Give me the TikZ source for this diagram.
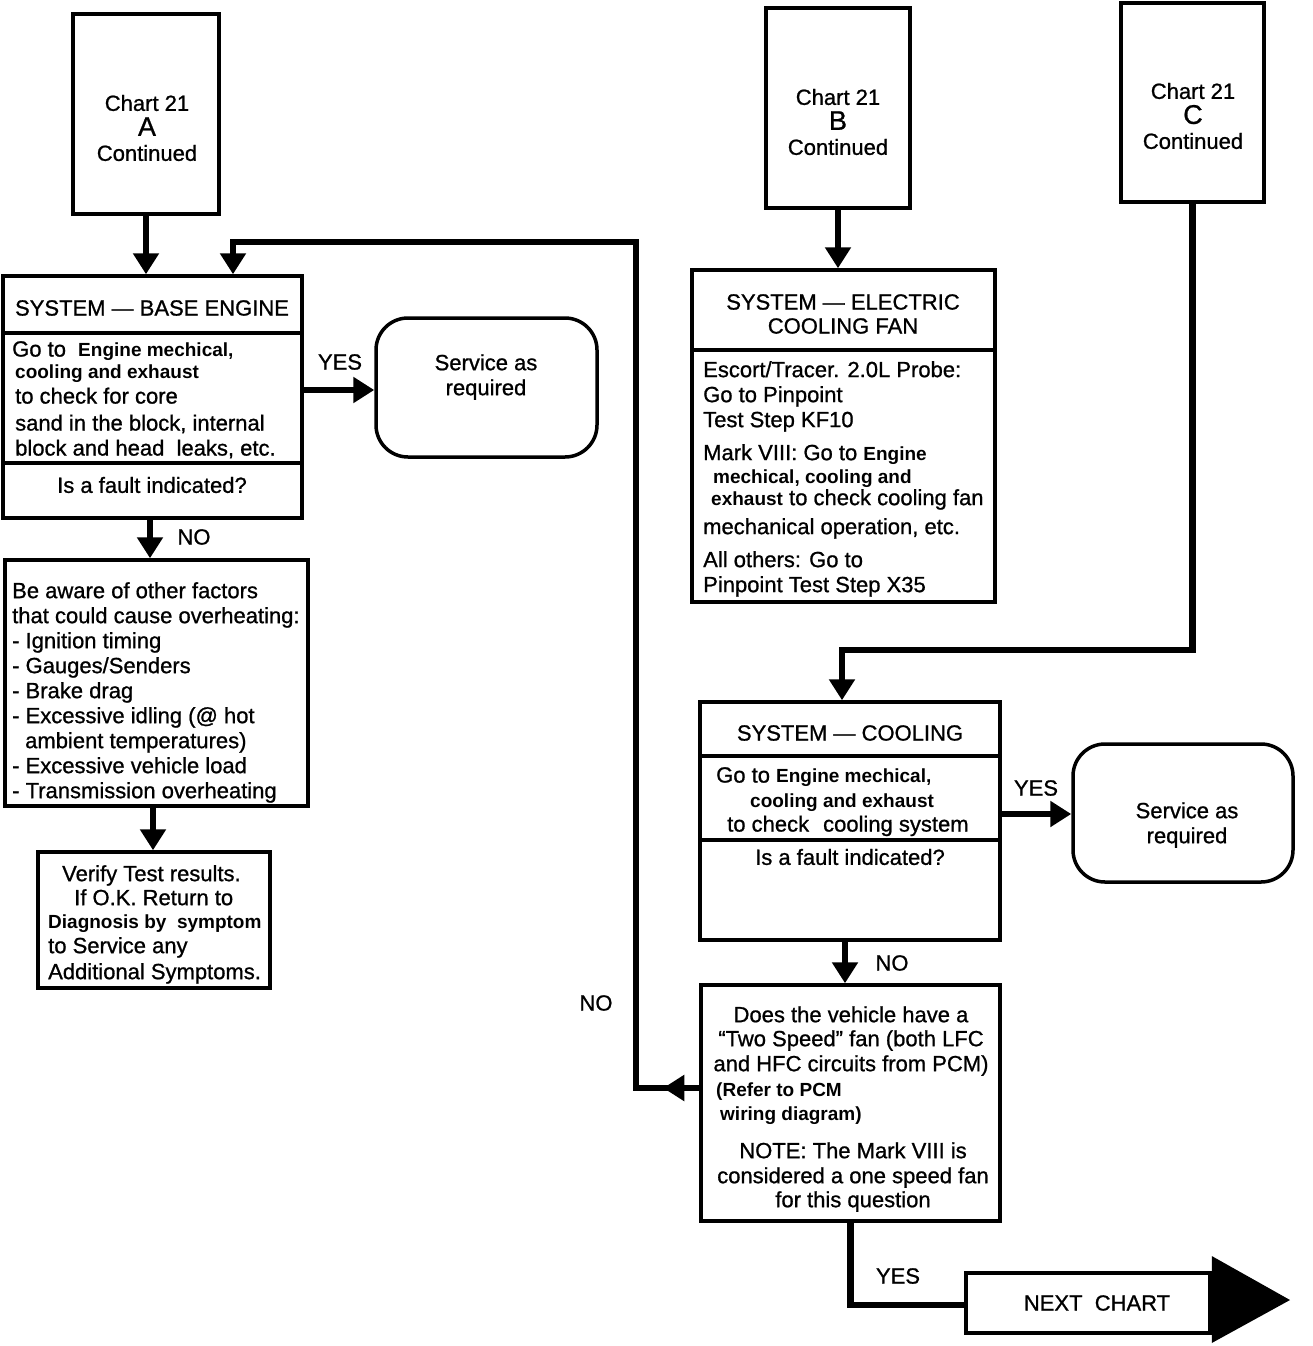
\documentclass[tikz,border=0pt]{standalone}
\usepackage{fontspec}
\setmainfont{Liberation Sans}[UprightFeatures={FakeBold=0.9}]
\usetikzlibrary{arrows.meta}
\newcommand\mainsz{\fontsize{22}{25}\selectfont}
\newcommand\smalltxt{\fontsize{19}{22}\selectfont\bfseries}
\begin{document}
\begin{tikzpicture}[x=1pt,y=-1pt,
  box/.style={draw,line width=3.5pt,inner sep=0pt},
  txt/.style={inner sep=0pt,font=\mainsz},
  flow/.style={line width=6.5pt,-{Triangle[length=21pt,width=25pt]}},
  plain/.style={line width=6.5pt},
  divider/.style={line width=3.5pt}]
\path[fill=white] (0,0) rectangle (1312,1346);
\useasboundingbox (0,0) rectangle (1312,1346);

% ---------- boxes ----------
\node[box,minimum width=146pt,minimum height=200pt] (chartA) at (146,114) {};
\node[box,minimum width=144pt,minimum height=200pt] (chartB) at (838,108) {};
\node[box,minimum width=143pt,minimum height=199pt] (chartC) at (1192.5,102.5) {};
\node[box,minimum width=299pt,minimum height=242pt] (base) at (152.5,397) {};
\node[box,rounded corners=32pt,minimum width=221pt,minimum height=139pt] (s1) at (486.5,387.5) {};
\node[box,minimum width=303pt,minimum height=246pt] (aware) at (156.5,683) {};
\node[box,minimum width=232pt,minimum height=136pt] (verify) at (154,920) {};
\node[box,minimum width=303pt,minimum height=332pt] (fan) at (843.5,436) {};
\node[box,minimum width=300pt,minimum height=238pt] (cool) at (850,821) {};
\node[box,rounded corners=32pt,minimum width=220pt,minimum height=138pt] (s2) at (1183,813) {};
\node[box,minimum width=299pt,minimum height=236pt] (q) at (850.5,1103) {};
\node[box,minimum width=244pt,minimum height=60pt] (next) at (1088,1303) {};
\fill (next.east |- 0,1256) -- (1290,1300) -- (next.east |- 0,1343) -- cycle;

% dividers
\draw[divider] (base.west |- 0,333) -- (base.east |- 0,333);
\draw[divider] (base.west |- 0,463) -- (base.east |- 0,463);
\draw[divider] (fan.west |- 0,350) -- (fan.east |- 0,350);
\draw[divider] (cool.west |- 0,756) -- (cool.east |- 0,756);
\draw[divider] (cool.west |- 0,840) -- (cool.east |- 0,840);

% ---------- texts ----------
\node[txt,align=center] (tA) at (147,128) {Chart 21\\{\fontsize{27}{25}\selectfont A}\\Continued};
\node[txt,align=center] (tB) at (838,122) {Chart 21\\{\fontsize{27}{25}\selectfont B}\\Continued};
\node[txt,align=center] (tC) at (1193,116) {Chart 21\\{\fontsize{27}{25}\selectfont C}\\Continued};

\node[txt] (baseT) at (152,308) {SYSTEM — BASE ENGINE};
\node[txt,anchor=north west,align=left] (baseB) at (12,341)
  {Go to\ \ {\smalltxt Engine mechical,}\\[-3pt]
   \hspace*{3pt}{\smalltxt cooling and exhaust}\\
   \hspace*{3pt}to check for core\\[2pt]
   \hspace*{3pt}sand in the block, internal\\
   \hspace*{3pt}block and head\ \ leaks, etc.};
\node[txt] (baseQ) at (152,485) {Is a fault indicated?};

\node[txt,align=center] (s1T) at (486,377) {Service as\\required};

\node[txt,anchor=north west,align=left] (awareT) at (12,582)
  {Be aware of other factors\\
   that could cause overheating:\\
   - Ignition timing\\
   - Gauges/Senders\\
   - Brake drag\\
   - Excessive idling (@ hot\\
   \hspace*{13pt}ambient temperatures)\\
   - Excessive vehicle load\\
   - Transmission overheating};

\node[txt,anchor=north west,align=left] (verifyT) at (48,865)
  {\hspace*{14pt}Verify Test results.\\[-1pt]
   \hspace*{26pt}If O.K. Return to\\[-2pt]
   {\smalltxt Diagnosis by\ \ symptom}\\
   to Service any\\[1pt]
   Additional Symptoms.};

\node[txt,align=center] (fanT) at (843,314) {SYSTEM — ELECTRIC\\[-1pt]COOLING FAN};
\node[txt,anchor=north west,align=left] (fanB) at (703,361)
  {Escort/Tracer. 2.0L Probe:\\
   Go to Pinpoint\\
   Test Step KF10\\[8pt]
   Mark VIII: Go to {\smalltxt Engine}\\[-2pt]
   \hspace*{10pt}{\smalltxt mechical, cooling and}\\[-3pt]
   \hspace*{8pt}{\smalltxt exhaust} to check cooling fan\\[4pt]
   mechanical operation, etc.\\[8pt]
   All others: Go to\\
   Pinpoint Test Step X35};

\node[txt] (coolT) at (850,733) {SYSTEM — COOLING};
\node[txt,anchor=north west,align=left] (coolB) at (716,767)
  {Go to {\smalltxt Engine mechical,}\\
   \hspace*{34pt}{\smalltxt cooling and exhaust}\\[-1pt]
   \hspace*{11pt}to check\hspace{14pt}cooling system};
\node[txt] (coolQ) at (850,857) {Is a fault indicated?};

\node[txt,align=center] (s2T) at (1187,825) {Service as\\required};

\node[txt,align=center] (qA) at (851,1041)
  {Does the vehicle have a\\[-1pt]“Two Speed” fan (both LFC\\and HFC circuits from PCM)};
\node[txt,anchor=north west,align=left] (qB) at (716,1083)
  {{\smalltxt (Refer to PCM}\\[-1pt]\hspace*{4pt}{\smalltxt wiring diagram)}};
\node[txt,align=center] (qC) at (853,1177)
  {NOTE: The Mark VIII is\\considered a one speed fan\\[-1pt]for this question};

\node[txt] (nextT) at (1097,1303) {NEXT\ \ CHART};

% labels
\node[txt] (yes1) at (340,362) {YES};
\node[txt] (no1) at (194,537) {NO};
\node[txt] (yes2) at (1036,788) {YES};
\node[txt] (no2) at (892,963) {NO};
\node[txt] (no3) at (596,1003) {NO};
\node[txt] (yes3) at (898,1276) {YES};

% ---------- connectors ----------
\coordinate (loopBot) at (636,1088);
\coordinate (loopTop) at (636,242);
\coordinate (loopIn) at (233,242);
\coordinate (cBend) at (842,650);

\draw[flow] (chartA.south) -- (chartA.south |- base.north);
\draw[flow] (q.west |- loopBot) -- (loopBot) -- (loopTop) -- (loopIn) -- (loopIn |- base.north);
\draw[flow] (q.west |- loopBot) -- ++(-36,0);
\draw[flow] (base.east |- 0,390) -- (s1.west |- 0,390);
\draw[flow] (base.south -| 150,0) -- (aware.north -| 150,0);
\draw[flow] (aware.south -| 153,0) -- (verify.north -| 153,0);

\draw[flow] (chartB.south) -- (chartB.south |- fan.north);
\draw[flow] (chartC.south) |- (cBend) -- (cBend |- cool.north);
\draw[flow] (cool.east |- 0,814) -- (s2.west |- 0,814);
\draw[flow] (cool.south -| 845,0) -- (q.north -| 845,0);
\draw[plain] (q.south) -- (q.south |- 0,1305) -- (next.west |- 0,1305);
\end{tikzpicture}
\end{document}
